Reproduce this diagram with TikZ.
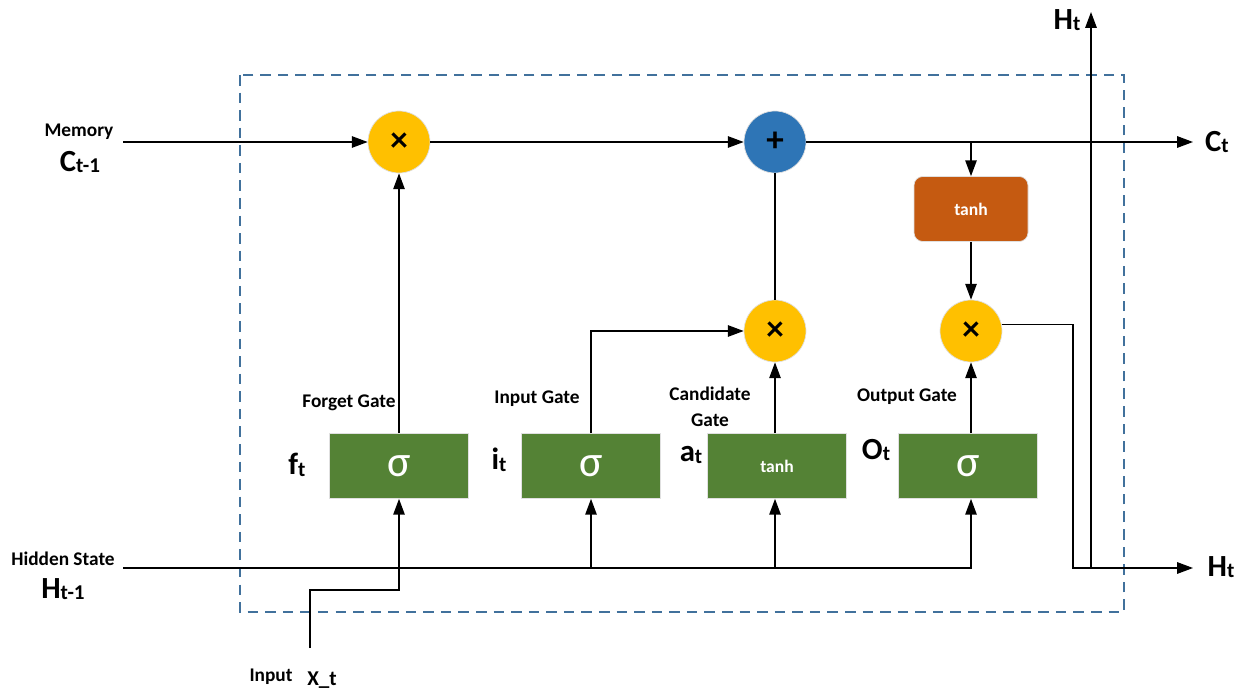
\documentclass[tikz,border=0pt]{standalone}
\usepackage{fontspec}
\setmainfont{Carlito}
\usetikzlibrary{arrows.meta}
\usetikzlibrary{positioning}

\definecolor{gateGreen}{HTML}{548235}
\definecolor{opYellow}{HTML}{FFC000}
\definecolor{opBlue}{HTML}{2E75B6}
\definecolor{tanhOrange}{HTML}{C55A11}
\definecolor{frameBlue}{HTML}{41719C}

\newcommand{\sbs}[2]{#1\lower1pt\hbox{\fontsize{12}{12}\selectfont #2}}

\begin{document}
\begin{tikzpicture}[x=0.02cm,y=-0.02cm,>={Triangle[length=9pt,width=6.5pt]},thick,
  gate/.style={rectangle,fill=gateGreen,draw=black!12,thin,minimum width=2.78cm,minimum height=1.3cm,text=white,font=\fontsize{25}{25}\selectfont},
  op/.style={circle,fill=opYellow,draw=black!12,thin,minimum size=1.24cm,inner sep=0pt,font=\bfseries\fontsize{20}{20}\selectfont},
  tanhbox/.style={rectangle,rounded corners=5pt,fill=tanhOrange,draw=black!12,thin,minimum width=2.28cm,minimum height=1.3cm,text=white,font=\bfseries\fontsize{10}{10}\selectfont},
  lbl/.style={font=\bfseries\fontsize{11}{15}\selectfont,inner sep=1pt,align=center},
  big/.style={font=\bfseries\fontsize{17.5}{17.5}\selectfont,inner sep=1pt}]

	      \useasboundingbox (0,0) rectangle (1247,692);
	      \draw[frameBlue,dash pattern=on 6pt off 4pt] (240,75) rectangle (1124,612);

	      % operations
	      \node[op] at (399,142) (mulf) {×};
	      \node[op,fill=opBlue] at (775,142) (add) {+};
	      \node[op] at (775,331) (muli) {×};
	      \node[op] at (971,331) (mulo) {×};
	      \node[tanhbox] at (971,209) (tanhc) {tanh};

	      % gates
	      \node[gate] at (399,466) (forget) {σ};
	      \node[gate] at (591,466) (inp) {σ};
	      \node[gate,font=\bfseries\fontsize{10}{10}\selectfont] at (777,466) (cand) {tanh};
	      \node[gate] at (968,466) (outg) {σ};

	      % free ends
	      \coordinate (memin) at (123,142);
	      \coordinate (cout) at (1193,142);
	      \coordinate (hin) at (123,568);
	      \coordinate (hout) at (1193,568);
	      \coordinate (hbend) at (1073,568);
	      \coordinate (hsplit) at (1091,568);
	      \coordinate (htop) at (1091,12);
	      \coordinate (xin) at (310,648);
	      \coordinate (xjog) at (310,590);

	      % cell state
	      \draw[->] (memin) -- (mulf);
	      \draw[->] (mulf) -- (add);
	      \draw[->] (add) -- (cout);
	      \draw[->] (tanhc.north |- add) -- (tanhc);
	      \draw[->] (tanhc) -- (mulo);
	      \draw (muli) -- (add);

	      % gates to operations
	      \draw[->] (forget) -- (mulf);
	      \draw[->] (inp.north) |- (muli);
	      \draw[->] (cand.north -| muli) -- (muli);
	      \draw[->] (outg.north -| mulo) -- (mulo);

	      % hidden state and input
	      \draw[->] (hin) -| (outg.south -| mulo);
	      \draw[->] (hin -| inp) -- (inp);
	      \draw[->] (hin -| muli) -- (cand.south -| muli);
	      \draw[->] (xin) -- (xjog) -| (forget);
	      \draw[->] (mulo.12) -| (hbend) -- (hout);
	      \draw[->] (hsplit) -- (htop);

	      % labels
	      \node[lbl] at (79,132) (memlbl) {Memory};
	      \node[big] at (80,162) (cprev) {\sbs{C}{t-1}};
	      \node[lbl] at (63,559) (hidlbl) {Hidden State};
	      \node[big] at (63,589) (hprev) {\sbs{H}{t-1}};
	      \node[lbl] at (271,677) (inlbl) {Input};
	      \node[lbl,font=\bfseries\fontsize{12}{12}\selectfont] at (322,680) (xlbl) {X\_t};
	      \node[lbl] at (349,403) (flbl) {Forget Gate};
	      \node[lbl] at (537,399) (ilbl) {Input Gate};
	      \node[lbl] at (710,407) (clbl) {Candidate\\Gate};
	      \node[lbl] at (907,397) (olbl) {Output Gate};
	      \node[big] at (297,465) (ft) {\sbs{f}{t}};
	      \node[big] at (499,460) (it) {\sbs{i}{t}};
	      \node[big] at (691,455) (at) {\sbs{a}{t}};
	      \node[big] at (876,450) (ot) {\sbs{O}{t}};
	      \node[big] at (1217,142) (ct) {\sbs{C}{t}};
	      \node[big] at (1221,567) (ht) {\sbs{H}{t}};
	      \node[big] at (1067,20) (httop) {\sbs{H}{t}};

	    \end{tikzpicture}
\end{document}
